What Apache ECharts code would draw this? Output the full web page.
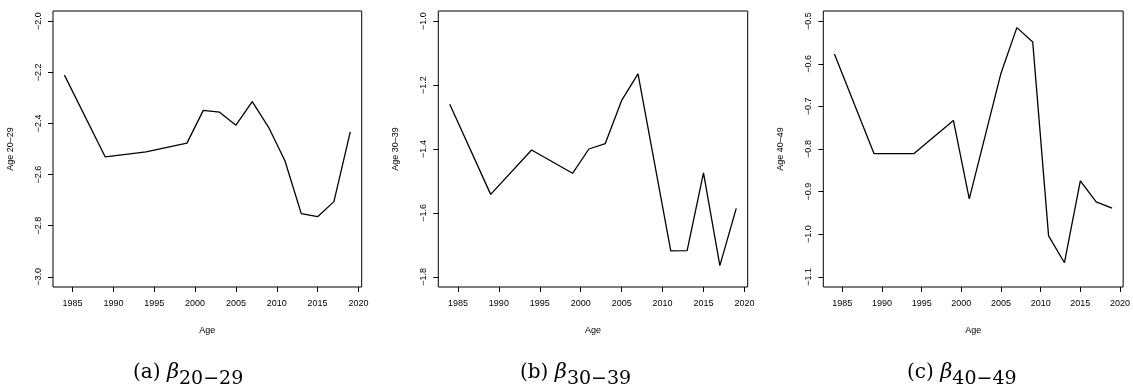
<!DOCTYPE html>
<html>
<head>
<meta charset="utf-8">
<script src="https://cdn.jsdelivr.net/npm/echarts@6/dist/echarts.min.js"></script>
<style>
  html, body { margin: 0; padding: 0; background: #fff; }
  #chart { width: 1133px; height: 390px; }
</style>
</head>
<body>
<div id="chart"></div>
<script>
// Estimated age-group coefficients by survey year
const years2029 = [1984, 1989, 1994, 1999, 2001, 2003, 2005, 2007, 2009, 2011, 2013, 2015, 2017, 2019];
const beta2029  = [-2.211, -2.531, -2.511, -2.477, -2.349, -2.356, -2.407, -2.315, -2.415, -2.546, -2.753, -2.765, -2.706, -2.433];

const years3039 = [1984, 1989, 1994, 1999, 2001, 2003, 2005, 2007, 2011, 2013, 2015, 2017, 2019];
const beta3039  = [-1.260, -1.542, -1.403, -1.476, -1.400, -1.383, -1.248, -1.165, -1.719, -1.718, -1.475, -1.765, -1.586];

const years4049 = [1984, 1989, 1994, 1999, 2001, 2005, 2007, 2009, 2011, 2013, 2015, 2017, 2019];
const beta4049  = [-0.577, -0.811, -0.811, -0.733, -0.917, -0.622, -0.515, -0.549, -1.004, -1.067, -0.875, -0.924, -0.939];

// Tick labels
const xTicks  = [1985, 1990, 1995, 2000, 2005, 2010, 2015, 2020];
const yTicks1 = [-3.0, -2.8, -2.6, -2.4, -2.2, -2.0];
const yTicks2 = [-1.8, -1.6, -1.4, -1.2, -1.0];
const yTicks3 = [-1.1, -1.0, -0.9, -0.8, -0.7, -0.6, -0.5];

const yNames   = ['Age 20\u201329', 'Age 30\u201339', 'Age 40\u201349'];
const xName    = 'Age';
const captions = [['(a)', '20\u221229'], ['(b)', '30\u221239'], ['(c)', '40\u221249']];

// Axis limits padded by 4% like base-graphics plots
function padded(lo, hi) { const d = (hi - lo) * 0.04; return [lo - d, hi + d]; }
const xLim = padded(1984, 2019);
const yLims = [padded(-3.0, -2.0), padded(-1.8, -1.0), padded(-1.1, -0.5)];
const yTickSets = [yTicks1, yTicks2, yTicks3];

const panels = [
  { left: 53,    width: 308.7 },
  { left: 438.3, width: 309.4 },
  { left: 823.3, width: 308.7 }
];
const seriesData = [
  years2029.map((y, i) => [y, beta2029[i]]),
  years3039.map((y, i) => [y, beta3039[i]]),
  years4049.map((y, i) => [y, beta4049[i]])
];

const sans = 'Liberation Sans, Arial, Helvetica, sans-serif';
const serif = 'DejaVu Serif, Liberation Serif, serif';
const fmtNum = v => (v < 0 ? '\u2212' : '') + Math.abs(v).toFixed(1);
const fmtYear = v => String(Math.round(v));

const option = {
  backgroundColor: '#ffffff',
  animation: false,
  grid: panels.map(p => ({
    left: p.left, top: 11, width: p.width, height: 276,
    show: true, borderColor: '#000', borderWidth: 1, backgroundColor: 'transparent'
  })),
  xAxis: panels.map((p, i) => ({
    type: 'value', gridIndex: i, min: xLim[0], max: xLim[1],
    name: xName, nameLocation: 'middle', nameGap: 39,
    nameTextStyle: { fontFamily: sans, fontSize: 9, color: '#000' },
    axisLine: { show: false },
    splitLine: { show: false },
    axisTick: { show: true, inside: false, length: 5, customValues: xTicks, lineStyle: { color: '#000', width: 1 } },
    axisLabel: { show: true, customValues: xTicks, margin: 12, fontFamily: sans, fontSize: 9, color: '#000', formatter: fmtYear }
  })),
  yAxis: panels.map((p, i) => ({
    type: 'value', gridIndex: i, min: yLims[i][0], max: yLims[i][1],
    name: yNames[i], nameLocation: 'middle', nameGap: 38,
    nameTextStyle: { fontFamily: sans, fontSize: 9, color: '#000' },
    axisLine: { show: false },
    splitLine: { show: false },
    axisTick: { show: true, inside: false, length: 5, customValues: yTickSets[i], lineStyle: { color: '#000', width: 1 } },
    axisLabel: { show: true, customValues: yTickSets[i], rotate: 90, margin: 10,
      fontFamily: sans, fontSize: 9, color: '#000', formatter: fmtNum }
  })),
  series: seriesData.map((d, i) => ({
    type: 'line', xAxisIndex: i, yAxisIndex: i, data: d,
    showSymbol: false, symbol: 'none',
    lineStyle: { color: '#000', width: 1.3 },
    z: 3
  })),
  graphic: captions.map((c, i) => ({
    type: 'text',
    left: [133, 520, 907][i],
    top: 362,
    style: {
      text: '{n|' + c[0] + ' }{b|\u03b2}{s|' + c[1] + '}',
      rich: {
        n: { fontFamily: serif, fontSize: 20, color: '#000', verticalAlign: 'bottom', lineHeight: 24 },
        b: { fontFamily: serif, fontStyle: 'italic', fontSize: 21, color: '#000', verticalAlign: 'bottom', lineHeight: 24 },
        s: { fontFamily: serif, fontSize: 19, color: '#000', verticalAlign: 'bottom', lineHeight: 24, padding: [0, 0, -6, 0] }
      }
    }
  }))
};

const chart = echarts.init(document.getElementById('chart'), null, { renderer: 'canvas' });
chart.setOption(option);
</script>
</body>
</html>
